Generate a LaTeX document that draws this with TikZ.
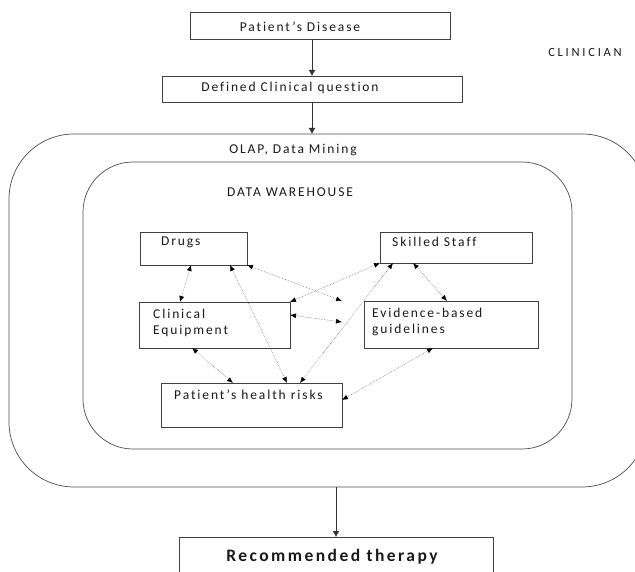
\documentclass[tikz,border=0pt]{standalone}
\usepackage{fontspec}
\setmainfont{Carlito}[LetterSpace=14,Ligatures=NoCommon]
\usetikzlibrary{arrows.meta}

\begin{document}
\begin{tikzpicture}[x=1pt,y=-1pt,
	box/.style={draw=black!75,line width=0.8pt,inner sep=0,outer sep=0},
	frame/.style={draw=black!70,line width=0.7pt,inner sep=0,outer sep=0},
	txt/.style={inner sep=0,text=black!90,font=\fontsize{13.5}{16}\selectfont},
	flow/.style={draw=black!80,line width=0.9pt,-{Latex[length=6pt,width=7pt]}},
	link/.style={draw=black!50,densely dotted,line width=0.6pt,{Latex[length=6pt,width=5pt,color=black]}-{Latex[length=6pt,width=5pt,color=black]}}]
	\useasboundingbox (0,0) rectangle (635,572);
	\clip (0,0) rectangle (635,572);
	\node[box,minimum width=260,minimum height=26.5] (disease) at (320,26) {};
	\node[box,minimum width=300,minimum height=26] (question) at (312,89) {};
	\node[frame,rounded corners=65,minimum width=638,minimum height=353] (olap) at (328,310.5) {};
	\node[frame,rounded corners=50,minimum width=489,minimum height=287] (dw) at (327.5,305.5) {};
	\node[box,minimum width=107,minimum height=33] (drugs) at (193.5,248.5) {};
	\node[box,minimum width=152,minimum height=31] (staff) at (456,247.5) {};
	\node[box,minimum width=151,minimum height=46] (clinical) at (214.5,325) {};
	\node[box,minimum width=174,minimum height=47] (evidence) at (451,324.5) {};
	\node[box,minimum width=181,minimum height=44] (risks) at (251.5,405) {};
	\node[box,minimum width=314,minimum height=46] (therapy) at (336,560) {};
	\node[txt] (disease-t) at (300,27) {Patient’s Disease};
	\node[txt] (question-t) at (290,88) {Defined Clinical question};
	\node[txt,font=\fontsize{12.5}{14}\selectfont\addfontfeature{LetterSpace=22}] (clinician) at (585,52) {CLINICIAN};
	\node[txt] (olap-t) at (293,150) {OLAP, Data Mining};
	\node[txt] (dw-t) at (290,192) {DATA WAREHOUSE};
	\node[txt,anchor=west] (drugs-t) at (161,242) {Drugs};
	\node[txt,anchor=west] (staff-t) at (392,242) {Skilled Staff};
	\node[txt,anchor=north west,align=left] (clinical-t) at (153,309) {Clinical\\Equipment};
	\node[txt,anchor=north west,align=left] (evidence-t) at (372,307.5) {Evidence-based\\guidelines};
	\node[txt,anchor=west] (risks-t) at (174,395) {Patient’s health risks};
	\node[txt,font=\fontsize{17.5}{19}\bfseries] (therapy-t) at (332,557) {Recommended therapy};
	\coordinate (c1) at (342,301);
	\coordinate (c2) at (342,322);
	\draw[flow] (disease.south -| question) -- (question.north);
	\draw[flow] (question.south) -- (question.south |- olap.north);
	\draw[flow] (therapy.north |- olap.south) -- (therapy.north);
	\draw[link] ([xshift=-2.5]drugs.south) -- ([xshift=-34.5]clinical.north);
	\draw[link] ([xshift=36.5]drugs.south) -- ([xshift=35.5]risks.north);
	\draw[link] (drugs.south east) -- (c1);
	\draw[link] (staff.south west) -- (clinical.north east);
	\draw[link] ([yshift=10]clinical.east) -- (c2);
	\draw[link] ([xshift=-63]staff.south) -- ([xshift=48.5]risks.north);
	\draw[link] ([xshift=-43]staff.south) -- ([xshift=-4]evidence.north);
	\draw[link] ([xshift=-22.5]clinical.south) -- ([xshift=-18.5]risks.north);
	\draw[link] ([xshift=-18]evidence.south) -- ([yshift=5]risks.east);
\end{tikzpicture}
\end{document}
